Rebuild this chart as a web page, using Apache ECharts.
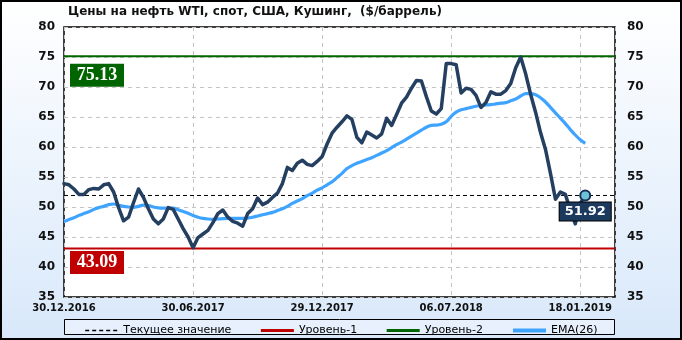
<!DOCTYPE html>
<html>
<head>
<meta charset="utf-8">
<script src="https://cdn.jsdelivr.net/npm/echarts@6/dist/echarts.min.js"></script>
<style>
  html, body { margin: 0; padding: 0; }
  #chart { width: 682px; height: 340px; }
</style>
</head>
<body>
<div id="chart"></div>
<script>
// недельные значения, индекс = номер недели от 30.12.2016
const price = [
  53.9, 53.7, 53.0, 52.1, 52.1, 52.9, 53.1, 53.0, 53.7, 53.9,
  52.5, 49.9, 47.7, 48.3, 50.7, 53.0, 51.6, 49.7, 48.0, 47.2,
  48.0, 49.9, 49.6, 48.0, 46.4, 45.0, 43.2, 44.9, 45.5, 46.1,
  47.4, 48.9, 49.5, 48.3, 47.6, 47.3, 46.8, 48.9, 49.7, 51.5,
  50.4, 50.8, 51.6, 52.3, 53.9, 56.6, 56.1, 57.3, 57.8, 57.1,
  56.9, 57.6, 58.4, 60.5, 62.3, 63.3, 64.2, 65.2, 64.6, 61.6,
  60.7, 62.5, 62.0, 61.5, 62.2, 64.8, 63.6, 65.4, 67.3, 68.3,
  69.8, 71.1, 71.0, 68.4, 66.0, 65.5, 66.4, 73.9, 73.9, 73.7,
  69.0, 69.8, 69.6, 68.6, 66.6, 67.4, 69.2, 68.8, 68.8, 69.4,
  70.6, 73.2, 75.0, 72.2, 68.8, 65.8, 62.4, 59.6, 55.6, 51.3,
  52.5, 52.1, 49.5, 47.2, 50.6, 51.92
];
const ema26 = [
  47.6, 47.9, 48.2, 48.6, 48.9, 49.2, 49.6, 49.9, 50.1, 50.4,
  50.5, 50.3, 50.1, 50.0, 49.95, 50.1, 50.3, 50.25, 50.0, 49.85,
  49.8, 49.8, 49.8, 49.55, 49.25, 48.95, 48.6, 48.3, 48.1, 48.0,
  47.95, 48.0, 48.05, 48.1, 48.1, 48.1, 48.1, 48.15, 48.3, 48.5,
  48.7, 48.9, 49.1, 49.4, 49.7, 50.1, 50.6, 51.0, 51.4, 51.9,
  52.3, 52.8, 53.2, 53.7, 54.2, 54.9, 55.6, 56.4, 56.9, 57.3,
  57.6, 57.9, 58.2, 58.6, 59.0, 59.4, 59.9, 60.4, 60.8, 61.3,
  61.8, 62.3, 62.8, 63.3, 63.6, 63.65, 63.8, 64.2, 65.1, 65.8,
  66.2, 66.4, 66.6, 66.8, 66.9, 67.0, 67.05, 67.2, 67.3, 67.4,
  67.7, 68.0, 68.5, 68.9, 68.9, 68.7, 68.2, 67.5, 66.6, 65.7,
  64.8, 63.9, 62.9, 62.0, 61.2, 60.6
];
const tickLabels = ['30.12.2016', '30.06.2017', '29.12.2017', '06.07.2018', '18.01.2019'];
const tickStep = 26;
const xMax = 111;
const currentValue = 51.92;
const level1 = 43.09;
const level2 = 75.13;

const chart = echarts.init(document.getElementById('chart'));

const toPairs = arr => arr.map((v, i) => [i, v]);
const flat = v => [[0, v], [xMax, v]];

const yAxisBase = {
  type: 'value',
  min: 35,
  max: 80,
  interval: 5,
  axisLine: { show: false },
  axisTick: { show: false },
  splitLine: { lineStyle: { color: '#c4c4c4', type: [4, 4], width: 1 } },
  axisLabel: { color: '#111', fontFamily: 'DejaVu Sans', fontWeight: 'bold', fontSize: 12 }
};

chart.setOption({
  backgroundColor: {
    type: 'linear', x: 0, y: 0, x2: 0, y2: 1,
    colorStops: [{ offset: 0, color: '#ffffff' }, { offset: 1, color: '#d8e8fa' }]
  },
  animation: false,
  title: {
    text: 'Цены на нефть WTI, спот, США, Кушинг,  ($/баррель)',
    left: 68,
    top: 6,
    padding: 0,
    textStyle: { fontFamily: 'DejaVu Sans', fontWeight: 'bold', fontSize: 12, color: '#111' }
  },
  grid: {
    left: 64, right: 67, top: 27, height: 270,
    show: true, backgroundColor: '#fff', borderColor: '#000', borderWidth: 1.5
  },
  legend: {
    left: 'center',
    top: 320,
    itemWidth: 33,
    itemHeight: 10,
    itemGap: 28,
    itemStyle: { opacity: 0 },
    textStyle: { fontFamily: 'DejaVu Sans', fontSize: 11, color: '#000' },
    data: [
      { name: 'Текущее значение', lineStyle: { width: 1.5 } },
      { name: 'Уровень-1', lineStyle: { width: 3 } },
      { name: 'Уровень-2', lineStyle: { width: 3 } },
      { name: 'EMA(26)', lineStyle: { width: 4 } }
    ]
  },
  graphic: [
    {
      type: 'rect', z: -1,
      shape: { x: 64.5, y: 319.5, width: 550, height: 15 },
      style: { fill: 'rgba(255,255,255,0.35)', stroke: '#000', lineWidth: 1 }
    },
    {
      type: 'rect', z: 100, silent: true,
      shape: { x: 1, y: 1, width: 680, height: 338 },
      style: { fill: 'none', stroke: '#000', lineWidth: 2 }
    }
  ],
  xAxis: {
    type: 'value',
    min: 0,
    max: xMax,
    interval: tickStep,
    axisLine: { show: false },
    axisTick: { show: false },
    splitLine: { lineStyle: { color: '#c4c4c4', type: [4, 4], width: 1 } },
    axisLabel: {
      margin: 6,
      color: '#111', fontFamily: 'DejaVu Sans', fontWeight: 'bold', fontSize: 10,
      formatter: v => (v % tickStep === 0 ? tickLabels[v / tickStep] || '' : '')
    }
  },
  yAxis: [
    Object.assign({}, yAxisBase, { position: 'left', axisLabel: Object.assign({}, yAxisBase.axisLabel, { margin: 9 }) }),
    Object.assign({}, yAxisBase, { position: 'right', splitLine: { show: false }, axisLabel: Object.assign({}, yAxisBase.axisLabel, { margin: 12 }) })
  ],
  series: [
    {
      name: 'Текущее значение',
      type: 'line',
      data: flat(currentValue),
      symbol: 'none',
      itemStyle: { color: '#000' },
      lineStyle: { color: '#000', width: 1, type: [4, 3] },
      z: 3
    },
    {
      name: 'Уровень-1',
      type: 'line',
      data: flat(level1),
      symbol: 'none',
      itemStyle: { color: '#c00000' },
      lineStyle: { color: '#c00000', width: 2 },
      markPoint: {
        symbol: 'rect',
        symbolSize: [54, 23],
        symbolOffset: [33, 14],
        itemStyle: { color: '#c00000' },
        label: { show: true, position: 'inside', color: '#fff', fontFamily: 'Liberation Serif', fontWeight: 'bold', fontSize: 18, formatter: String(level1) },
        data: [{ coord: [0, level1] }]
      }
    },
    {
      name: 'Уровень-2',
      type: 'line',
      data: flat(level2),
      symbol: 'none',
      itemStyle: { color: '#006400' },
      lineStyle: { color: '#006400', width: 2 },
      markPoint: {
        symbol: 'rect',
        symbolSize: [54, 23],
        symbolOffset: [33, 19],
        itemStyle: { color: '#006400' },
        label: { show: true, position: 'inside', color: '#fff', fontFamily: 'Liberation Serif', fontWeight: 'bold', fontSize: 18, formatter: String(level2) },
        data: [{ coord: [0, level2] }]
      }
    },
    {
      name: 'EMA(26)',
      type: 'line',
      data: toPairs(ema26),
      symbol: 'none',
      smooth: 0.3,
      itemStyle: { color: '#3fa4ff' },
      lineStyle: { color: '#3fa4ff', width: 3.2 },
      z: 4
    },
    {
      name: 'Цена',
      type: 'line',
      data: toPairs(price),
      symbol: 'none',
      itemStyle: { color: '#243f60' },
      lineStyle: { color: '#243f60', width: 3.5, join: 'round', cap: 'round' },
      z: 5,
      markPoint: {
        z: 10,
        symbol: 'circle',
        symbolSize: 10,
        itemStyle: { color: '#6cc4d6', borderColor: '#16305a', borderWidth: 2 },
        label: {
          show: true, position: 'bottom', distance: 1,
          formatter: String(currentValue),
          color: '#fff', fontFamily: 'DejaVu Sans', fontWeight: 'bold', fontSize: 13,
          backgroundColor: '#1b3a5e', borderColor: '#000', borderWidth: 1, padding: [3, 5, 2, 5]
        },
        data: [{ coord: [price.length - 1, currentValue] }]
      }
    }
  ]
});
</script>
</body>
</html>
